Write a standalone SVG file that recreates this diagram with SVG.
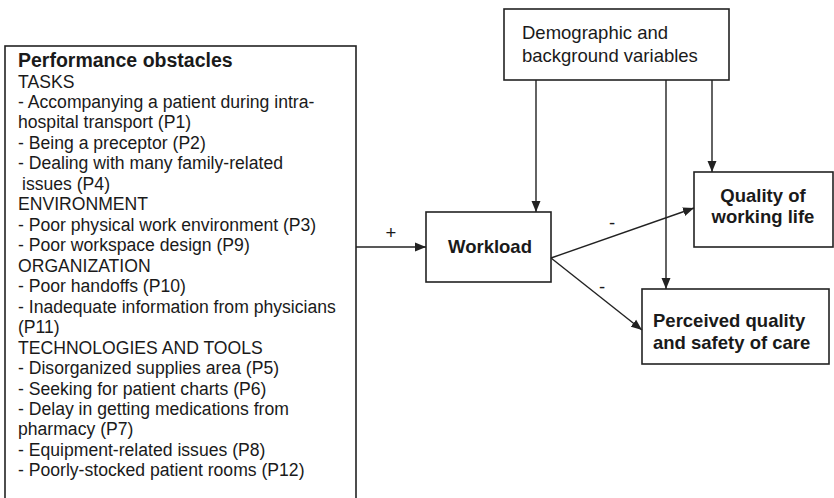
<svg xmlns="http://www.w3.org/2000/svg" width="834" height="498" viewBox="0 0 834 498">
<style>
.box{fill:#fff;stroke:#222;stroke-width:1.6}
.con{stroke:#222;stroke-width:1.4;fill:none;marker-end:url(#ah)}
.t{font-family:"Liberation Sans",Arial,sans-serif;font-size:17.6px;fill:#1a1a1a}
.b{font-family:"Liberation Sans",Arial,sans-serif;font-size:18.5px;font-weight:bold;fill:#1a1a1a}
.r{font-family:"Liberation Sans",Arial,sans-serif;font-size:18.5px;fill:#1a1a1a}
</style>
<defs>
<marker id="ah" markerUnits="userSpaceOnUse" markerWidth="12" markerHeight="10" refX="11" refY="5" orient="auto">
<path d="M0,0.5 L11,5 L0,9.5 z" fill="#222"/>
</marker>
</defs>
<rect width="834" height="498" fill="#fff"/>
<g id="obstacles">
<rect class="box" x="5" y="46" width="351" height="460"/>
<text class="b" x="18" y="67" style="font-size:19.5px">Performance obstacles</text>
<text class="t" x="18" y="87.5">
<tspan x="18" y="87.5">TASKS</tspan>
<tspan x="18" dy="20.47">- Accompanying a patient during intra-</tspan>
<tspan x="18" dy="20.47">hospital transport (P1)</tspan>
<tspan x="18" dy="20.47">- Being a preceptor (P2)</tspan>
<tspan x="18" dy="20.47">- Dealing with many family-related</tspan>
<tspan x="22" dy="20.47">issues (P4)</tspan>
<tspan x="18" dy="20.47">ENVIRONMENT</tspan>
<tspan x="18" dy="20.47">- Poor physical work environment (P3)</tspan>
<tspan x="18" dy="20.47">- Poor workspace design (P9)</tspan>
<tspan x="18" dy="20.47">ORGANIZATION</tspan>
<tspan x="18" dy="20.47">- Poor handoffs (P10)</tspan>
<tspan x="18" dy="20.47">- Inadequate information from physicians</tspan>
<tspan x="18" dy="20.47">(P11)</tspan>
<tspan x="18" dy="20.47">TECHNOLOGIES AND TOOLS</tspan>
<tspan x="18" dy="20.47">- Disorganized supplies area (P5)</tspan>
<tspan x="18" dy="20.47">- Seeking for patient charts (P6)</tspan>
<tspan x="18" dy="20.47">- Delay in getting medications from</tspan>
<tspan x="18" dy="20.47">pharmacy (P7)</tspan>
<tspan x="18" dy="20.47">- Equipment-related issues (P8)</tspan>
<tspan x="18" dy="20.47">- Poorly-stocked patient rooms (P12)</tspan>
</text>
</g>
<g id="demographic">
<rect class="box" x="504" y="9" width="225" height="71"/>
<text class="r" x="522" y="39">Demographic and</text>
<text class="r" x="522" y="62">background variables</text>
</g>
<g id="workload">
<rect class="box" x="426" y="212" width="125" height="70"/>
<text class="b" x="490" y="253" text-anchor="middle">Workload</text>
</g>
<g id="qwl">
<rect class="box" x="694" y="172" width="139" height="75"/>
<text class="b" x="763" y="202" text-anchor="middle">Quality of</text>
<text class="b" x="763" y="223" text-anchor="middle">working life</text>
</g>
<g id="perceived">
<rect class="box" x="642" y="289" width="187" height="75"/>
<text class="b" x="653" y="327">Perceived quality</text>
<text class="b" x="653" y="349">and safety of care</text>
</g>
<g id="connectors">
<line class="con" x1="356" y1="247" x2="426" y2="247"/>
<line class="con" x1="536" y1="80" x2="536" y2="212"/>
<line class="con" x1="666" y1="80" x2="666" y2="289"/>
<line class="con" x1="712" y1="80" x2="712" y2="172"/>
<line class="con" x1="551" y1="258" x2="694" y2="208"/>
<line class="con" x1="551" y1="258" x2="642" y2="330"/>
<text class="r" x="391" y="239" text-anchor="middle">+</text>
<text class="r" x="612" y="229" text-anchor="middle">-</text>
<text class="r" x="602" y="293" text-anchor="middle">-</text>
</g>
</svg>
